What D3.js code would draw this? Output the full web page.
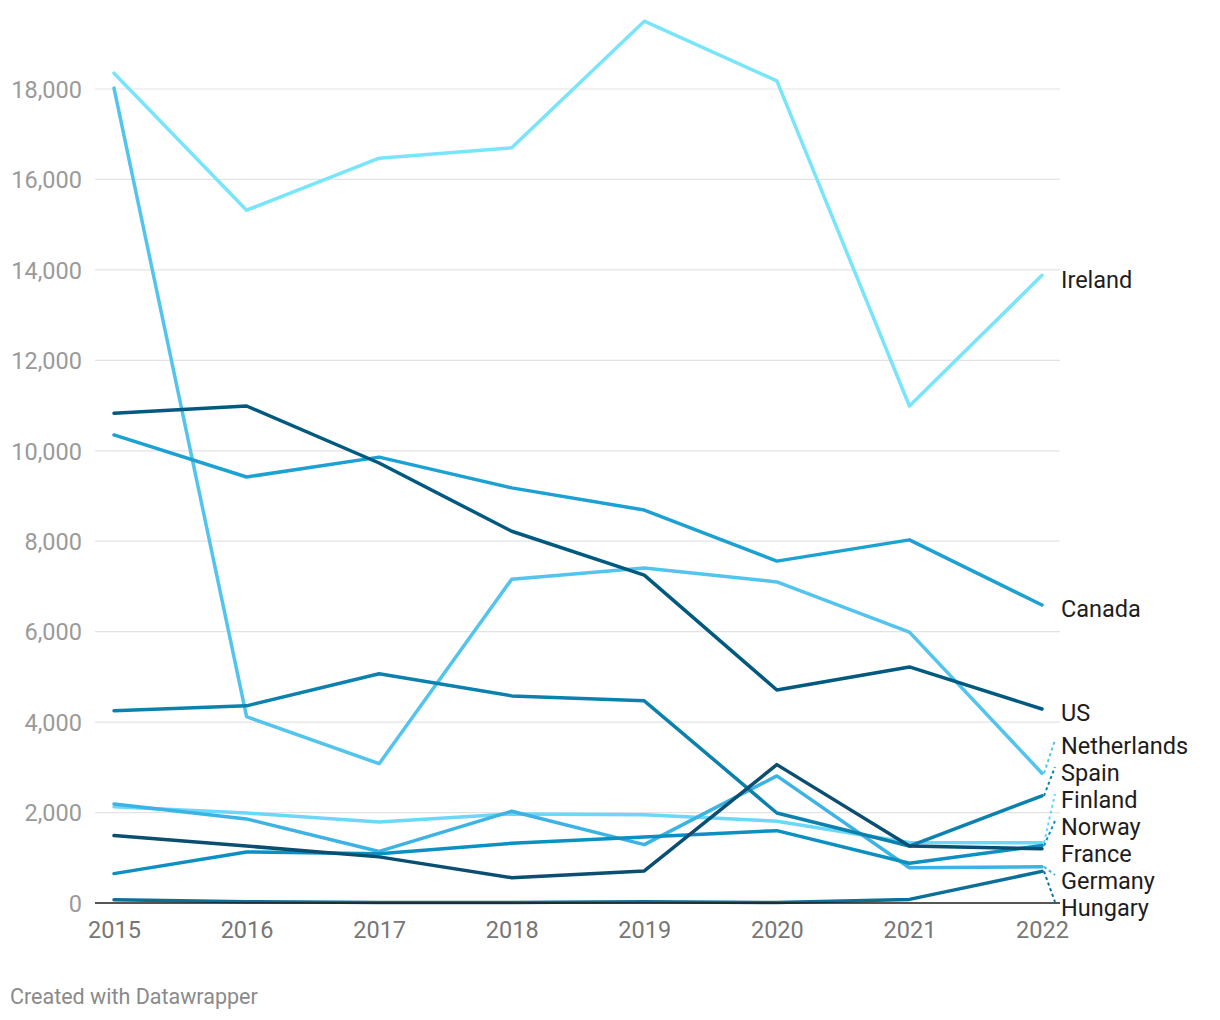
<!DOCTYPE html>
<html>
<head>
<meta charset="utf-8">
<script src="https://cdn.jsdelivr.net/npm/d3@7"></script>
<style>
  html, body { margin: 0; padding: 0; background: #fff; }
  svg { display: block; font-family: Roboto, "Noto Sans", sans-serif; }
</style>
</head>
<body>
<svg id="chart" width="1220" height="1020"></svg>
<script>
const years = [2015, 2016, 2017, 2018, 2019, 2020, 2021, 2022];
const yTicks = [0, 2000, 4000, 6000, 8000, 10000, 12000, 14000, 16000, 18000];

const countries = ["Ireland", "Netherlands", "US", "Canada", "Spain", "Finland", "Norway", "France", "Germany", "Hungary"];

const ireland     = [18350, 15320, 16470, 16700, 19500, 18180, 10990, 13880];
const netherlands = [18020, 4120, 3080, 7160, 7410, 7100, 5990, 2870];
const us          = [10830, 10990, 9730, 8220, 7250, 4710, 5220, 4290];
const canada      = [10350, 9420, 9860, 9180, 8690, 7560, 8030, 6590];
const spain       = [4250, 4360, 5070, 4580, 4470, 1990, 1260, 2370];
const finland     = [2130, 1990, 1790, 1970, 1950, 1810, 1340, 1330];
const norway      = [650, 1130, 1090, 1320, 1460, 1600, 880, 1270];
const france      = [1490, 1260, 1020, 560, 710, 3060, 1260, 1200];
const germany     = [2190, 1860, 1140, 2030, 1290, 2810, 780, 800];
const hungary     = [70, 30, 10, 10, 30, 10, 80, 700];

const colors = ["#78e5fb", "#52c4ee", "#005a80", "#1ca2d2", "#0b82ad", "#6bd7f9", "#0c90c1", "#0a4e72", "#3db3e3", "#0c6f97"];
const seriesValues = [ireland, netherlands, us, canada, spain, finland, norway, france, germany, hungary];

const series = countries.map((name, i) => ({ name, values: seriesValues[i], color: colors[i] }));
// drawing order (back to front)
const drawOrder = ["Ireland", "Finland", "Netherlands", "Germany", "Canada", "Norway", "Spain", "Hungary", "US", "France"];

const svg = d3.select("#chart");

const x = d3.scaleLinear().domain([2015, 2022]).range([114, 1042]);
const y = d3.scaleLinear().domain([0, 18000]).range([903, 89]);

const gridX0 = 95, gridX1 = 1060;

// gridlines
svg.append("g")
  .selectAll("line")
  .data(yTicks.filter(d => d !== 0))
  .join("line")
  .attr("x1", gridX0).attr("x2", gridX1)
  .attr("y1", d => y(d)).attr("y2", d => y(d))
  .attr("stroke", "#e3e3e3").attr("stroke-width", 1.2);

// y axis labels
const yAxis = d3.axisLeft(y).tickValues(yTicks).tickFormat(d3.format(",")).tickSize(0).tickPadding(0);
const yG = svg.append("g").attr("transform", `translate(82,0)`).call(yAxis);
yG.select(".domain").remove();
yG.selectAll("text")
  .attr("fill", "#9a9a9a")
  .attr("font-size", "23.5px")
  .attr("font-family", "Roboto, sans-serif")
  .attr("dy", "0.35em");

// x axis labels
const xAxis = d3.axisBottom(x).tickValues(years).tickFormat(d3.format("d")).tickSize(0).tickPadding(0);
const xG = svg.append("g").attr("transform", `translate(0,930)`).call(xAxis);
xG.select(".domain").remove();
xG.selectAll("text")
  .attr("fill", "#777")
  .attr("font-size", "23.5px")
  .attr("font-family", "Roboto, sans-serif")
  .attr("dy", "0.35em");

// lines
const line = d3.line()
  .x((d, i) => x(years[i]))
  .y(d => y(d));

const ordered = drawOrder.map(n => series.find(s => s.name === n));
svg.append("g")
  .selectAll("path")
  .data(ordered)
  .join("path")
  .attr("d", d => line(d.values))
  .attr("fill", "none")
  .attr("stroke", d => d.color)
  .attr("stroke-width", 3.5)
  .attr("stroke-linejoin", "round")
  .attr("stroke-linecap", "round");

// baseline
svg.append("line")
  .attr("x1", gridX0).attr("x2", gridX1)
  .attr("y1", y(0)).attr("y2", y(0))
  .attr("stroke", "#1d1d1d").attr("stroke-width", 1.6);

// label layout (relaxation with a lower bound)
const labelShift = 4;
const maxLabelY = y(0) + 5;
const labels = series.map(s => ({
  name: s.name, color: s.color,
  endY: y(s.values[s.values.length - 1]),
  ly: y(s.values[s.values.length - 1]) + labelShift
})).sort((a, b) => a.endY - b.endY);

const gap = 27;
for (let iter = 0; iter < 1000; iter++) {
  let moved = false;
  for (let i = 0; i < labels.length - 1; i++) {
    const a = labels[i], b = labels[i + 1];
    const d = b.ly - a.ly;
    if (d < gap - 0.01) {
      const push = (gap - d) / 2;
      a.ly -= push; b.ly += push;
      moved = true;
    }
  }
  labels.forEach(l => { if (l.ly > maxLabelY) { l.ly = maxLabelY; } });
  if (!moved) break;
}

const lg = svg.append("g");
labels.forEach(l => {
  if (Math.abs(l.ly - l.endY - labelShift) > 3) {
    lg.append("line")
      .attr("x1", x(2022) + 2).attr("y1", l.endY)
      .attr("x2", 1055).attr("y2", l.ly - 6)
      .attr("stroke", l.color)
      .attr("stroke-width", 2)
      .attr("stroke-dasharray", "3,3");
  }
  lg.append("text")
    .attr("x", 1061).attr("y", l.ly)
    .attr("dy", "0.35em")
    .attr("fill", "#1d1d1d")
    .attr("font-size", "23.5px")
    .attr("font-family", "Roboto, sans-serif")
    .text(l.name);
});

// footer
svg.append("text")
  .attr("x", 10).attr("y", 1004)
  .attr("fill", "#8a8a8a")
  .attr("font-size", "21.5px")
  .attr("font-family", "Roboto, sans-serif")
  .text("Created with Datawrapper");
</script>
</body>
</html>
